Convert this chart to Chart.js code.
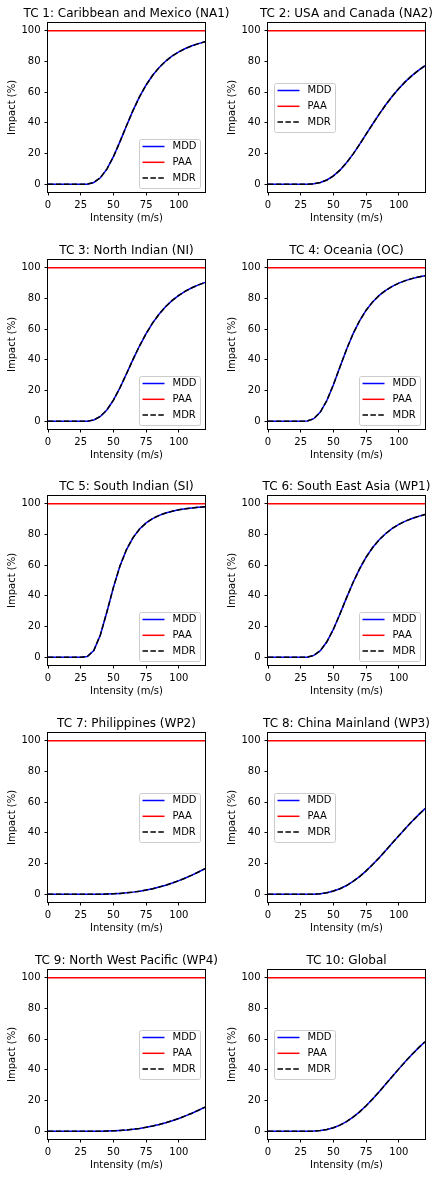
<!DOCTYPE html>
<html>
<head>
<meta charset="utf-8">
<script src="https://cdn.jsdelivr.net/npm/chart.js@4"></script>
<style>
  html, body { margin: 0; padding: 0; background: #fff; overflow: hidden; }
  #fig { position: relative; width: 440px; height: 1177px; overflow: hidden; background: #fff; }
  #fig canvas { position: absolute; }
</style>
</head>
<body>
<div id="fig"></div>
<script>
// intensidad (m/s) comun a todos los paneles
const intensity = [0, 5, 10, 15, 20, 25, 30, 35, 40, 45, 50, 55, 60, 65, 70, 75, 80, 85, 90, 95, 100, 105, 110, 115, 120];

// PAA siempre 100 %
const paa = [100, 100, 100, 100, 100, 100, 100, 100, 100, 100, 100, 100, 100, 100, 100, 100, 100, 100, 100, 100, 100, 100, 100, 100, 100];

const mddNA1 = [0, 0, 0, 0, 0, 0, 0.12, 1.21, 4.28, 9.90, 17.98, 27.76, 38.14, 48.12, 57.05, 64.67, 70.98, 76.11, 80.24, 83.57, 86.24, 88.40, 90.15, 91.58, 92.76];
const mddNA2 = [0, 0, 0, 0, 0, 0, 0.03, 0.32, 1.17, 2.82, 5.48, 9.22, 14.01, 19.68, 25.98, 32.61, 39.26, 45.71, 51.77, 57.33, 62.35, 66.82, 70.75, 74.20, 77.20];
const mddNI  = [0, 0, 0, 0, 0, 0, 0.09, 0.89, 3.15, 7.40, 13.76, 21.86, 30.98, 40.30, 49.16, 57.13, 64.04, 69.87, 74.73, 78.73, 82.02, 84.72, 86.95, 88.79, 90.32];
const mddOC  = [0, 0, 0, 0, 0, 0, 0.17, 1.72, 5.99, 13.55, 23.82, 35.41, 46.79, 56.95, 65.46, 72.31, 77.73, 81.97, 85.28, 87.88, 89.94, 91.57, 92.89, 93.95, 94.81];
const mddSI  = [0, 0, 0, 0, 0, 0, 0.46, 4.47, 14.55, 29.51, 45.52, 59.43, 70.15, 77.95, 83.50, 87.46, 90.31, 92.39, 93.93, 95.09, 95.98, 96.67, 97.21, 97.65, 97.99];
const mddWP1 = [0, 0, 0, 0, 0, 0, 0.12, 1.24, 4.37, 10.10, 18.31, 28.21, 38.67, 48.68, 57.60, 65.18, 71.44, 76.52, 80.60, 83.87, 86.50, 88.63, 90.35, 91.75, 92.91];
const mddWP2 = [0, 0, 0, 0, 0, 0, 0, 0.02, 0.07, 0.17, 0.34, 0.60, 0.95, 1.43, 2.03, 2.78, 3.67, 4.73, 5.96, 7.35, 8.90, 10.62, 12.49, 14.51, 16.65];
const mddWP3 = [0, 0, 0, 0, 0, 0, 0.01, 0.12, 0.44, 1.07, 2.11, 3.64, 5.72, 8.36, 11.56, 15.26, 19.40, 23.86, 28.55, 33.34, 38.14, 42.84, 47.38, 51.70, 55.76];
const mddWP4 = [0, 0, 0, 0, 0, 0, 0, 0.02, 0.07, 0.16, 0.32, 0.56, 0.89, 1.34, 1.91, 2.61, 3.45, 4.45, 5.61, 6.92, 8.39, 10.02, 11.80, 13.73, 15.78];
const mddROW = [0, 0, 0, 0, 0, 0, 0.01, 0.13, 0.49, 1.19, 2.34, 4.03, 6.31, 9.20, 12.67, 16.67, 21.09, 25.82, 30.74, 35.71, 40.64, 45.43, 50.00, 54.31, 58.33];

const titles = [
  "TC 1: Caribbean and Mexico (NA1)", "TC 2: USA and Canada (NA2)",
  "TC 3: North Indian (NI)", "TC 4: Oceania (OC)",
  "TC 5: South Indian (SI)", "TC 6: South East Asia (WP1)",
  "TC 7: Philippines (WP2)", "TC 8: China Mainland (WP3)",
  "TC 9: North West Pacific (WP4)", "TC 10: Global"
];
const series = [mddNA1, mddNA2, mddNI, mddOC, mddSI, mddWP1, mddWP2, mddWP3, mddWP4, mddROW];
const legendLoc = ["lower right", "center left", "lower right", "lower right", "lower right",
                   "lower right", "center right", "center left", "center right", "center left"];

const xTicks = [0, 25, 50, 75, 100];
const yTicks = [0, 20, 40, 60, 80, 100];

Chart.defaults.font.family = "'DejaVu Sans', sans-serif";
Chart.defaults.font.size = 10;
Chart.defaults.color = "#000";

// marco completo + titulo del panel
const frameTitle = {
  id: "frameTitle",
  afterDatasetsDraw(chart, args, opts) {
    const { ctx, chartArea: a } = chart;
    ctx.save();
    ctx.strokeStyle = "#000";
    ctx.lineWidth = 1;
    ctx.strokeRect(a.left - 0.5, a.top - 0.5, a.right - a.left + 1, a.bottom - a.top + 1);
    ctx.fillStyle = "#000";
    ctx.font = "12px 'DejaVu Sans'";
    ctx.textAlign = "center";
    ctx.textBaseline = "alphabetic";
    ctx.fillText(opts.text, (a.left + a.right) / 2, a.top - 6.3);
    ctx.restore();
  }
};

// leyenda dentro del area del grafico
const boxLegend = {
  id: "boxLegend",
  afterDraw(chart, args, opts) {
    const { ctx, chartArea: a } = chart;
    const w = 61, h = 49;
    let x, y;
    if (opts.loc === "lower right") { x = a.right - 5 - w; y = a.bottom - 4 - h; }
    else if (opts.loc === "center left") { x = a.left + 6; y = (a.top + a.bottom) / 2 - h / 2; }
    else { x = a.right - 5 - w; y = (a.top + a.bottom) / 2 - h / 2; }
    ctx.save();
    ctx.beginPath();
    ctx.roundRect(Math.round(x) + 0.5, Math.round(y) + 0.5, w, h, 2);
    ctx.fillStyle = "rgba(255,255,255,0.8)";
    ctx.fill();
    ctx.strokeStyle = "#cccccc";
    ctx.lineWidth = 1;
    ctx.stroke();
    ctx.font = "10px 'DejaVu Sans'";
    ctx.textBaseline = "middle";
    chart.data.datasets.forEach((ds, i) => {
      const ly = y + 7.5 + i * 15.8;
      ctx.beginPath();
      ctx.setLineDash(ds.borderDash || []);
      ctx.lineWidth = ds.borderWidth;
      ctx.strokeStyle = ds.borderColor;
      ctx.moveTo(x + 3.5, ly);
      ctx.lineTo(x + 25.5, ly);
      ctx.stroke();
      ctx.setLineDash([]);
      ctx.fillStyle = "#000";
      ctx.fillText(ds.label, x + 33.5, ly);
    });
    ctx.restore();
  }
};

const fig = document.getElementById("fig");
const rowTop = [0, 237, 473, 710, 947];

titles.forEach((title, i) => {
  const row = Math.floor(i / 2), col = i % 2;
  const cv = document.createElement("canvas");
  const cw = col === 0 ? 250 : 230;
  cv.width = cw; cv.height = 237;
  cv.style.left = (col === 0 ? 0 : 210) + "px";
  cv.style.top = rowTop[row] + "px";
  cv.style.width = cw + "px"; cv.style.height = "237px";
  fig.appendChild(cv);

  const mdd = series[i];
  const pts = arr => intensity.map((v, k) => ({ x: v, y: arr[k] }));

  new Chart(cv, {
    type: "line",
    data: {
      datasets: [
        { label: "MDD", data: pts(mdd), borderColor: "#0000ff", borderWidth: 1.5, order: 2 },
        { label: "PAA", data: pts(paa), borderColor: "#ff0000", borderWidth: 1.5, order: 1 },
        { label: "MDR", data: pts(mdd), borderColor: "#000000", borderWidth: 1.5, borderDash: [5.5, 2.4], order: 0 }
      ]
    },
    options: {
      responsive: false,
      animation: false,
      devicePixelRatio: 1,
      elements: { point: { radius: 0 }, line: { tension: 0 } },
      layout: { padding: { top: 23, bottom: 0, left: col === 0 ? 0 : 10, right: col === 0 ? 45 : 15 } },
      plugins: {
        legend: { display: false },
        tooltip: { enabled: false },
        title: { display: false },
        frameTitle: { text: title },
        boxLegend: { loc: legendLoc[i] }
      },
      scales: {
        x: {
          type: "linear", min: 0, max: 120,
          afterBuildTicks: s => { s.ticks = xTicks.map(v => ({ value: v })); },
          afterFit: s => { s.height = 45; },
          ticks: { padding: 4, maxRotation: 0, color: "#000" },
          grid: { drawOnChartArea: false, drawTicks: true, tickLength: 3.5, color: "#000", lineWidth: 1 },
          border: { display: false },
          title: { display: true, text: "Intensity (m/s)", color: "#000", padding: { top: 0, bottom: 12.5 } }
        },
        y: {
          type: "linear", min: -5, max: 105,
          afterBuildTicks: s => { s.ticks = yTicks.map(v => ({ value: v })); },
          afterFit: s => { s.width = 48; },
          ticks: { padding: 4, color: "#000" },
          grid: { drawOnChartArea: false, drawTicks: true, tickLength: 3.5, color: "#000", lineWidth: 1 },
          border: { display: false },
          title: { display: true, text: "Impact (%)", color: "#000", padding: { top: 6.2, bottom: 0 } }
        }
      }
    },
    plugins: [frameTitle, boxLegend]
  });
});
</script>
</body>
</html>
